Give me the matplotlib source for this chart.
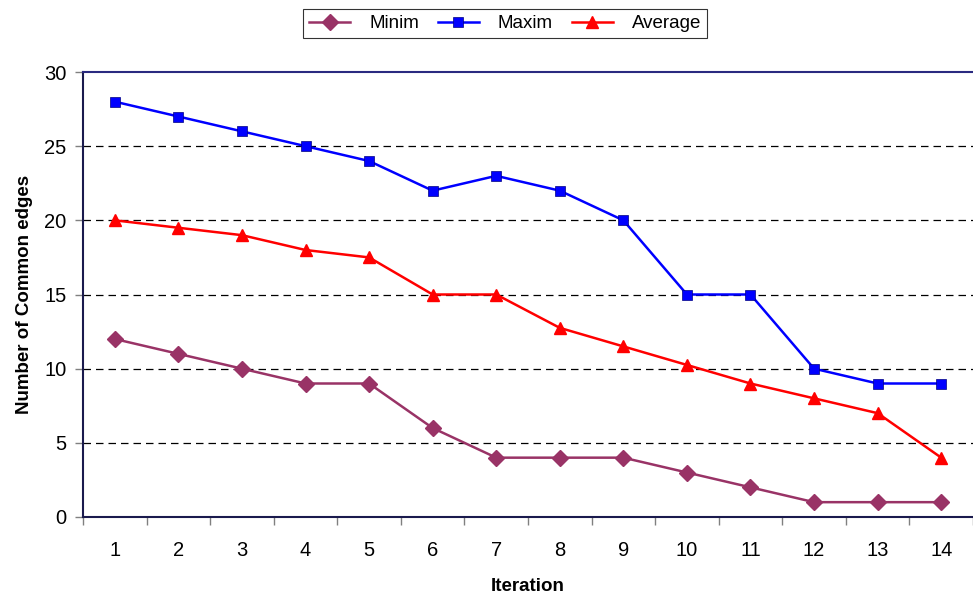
import matplotlib
matplotlib.use("Agg")
import matplotlib.pyplot as plt
from matplotlib.ticker import FixedLocator, NullFormatter

plt.rcParams['font.family'] = ['Liberation Sans', 'DejaVu Sans']

iterations = list(range(1, 15))
minim = [12, 11, 10, 9, 9, 6, 4, 4, 4, 3, 2, 1, 1, 1]
maxim = [28, 27, 26, 25, 24, 22, 23, 22, 20, 15, 15, 10, 9, 9]
average = [20, 19.5, 19, 18, 17.5, 15, 15, 12.75, 11.5, 10.25, 9, 8, 7, 4]
yticks = [0, 5, 10, 15, 20, 25, 30]

fig = plt.figure(figsize=(9.73, 5.94), dpi=100)
ax = fig.add_axes([83/973, 1-517/594, 1-83/973, (517-72)/594])

ax.plot(iterations, minim, color='#993366', marker='D', markersize=8, linewidth=1.8, label='Minim')
ax.plot(iterations, maxim, color='#0000FF', marker='s', markersize=6.5, linewidth=1.8,
        markeredgecolor='#000080', markeredgewidth=0.5, label='Maxim')
ax.plot(iterations, average, color='#FF0000', marker='^', markersize=8, linewidth=1.8, label='Average')

ax.set_xlim(0.5, 14.5)
ax.set_ylim(0, 30)
ax.set_xticks(iterations)
ax.set_xticklabels([str(i) for i in iterations])
ax.xaxis.set_minor_locator(FixedLocator([i + 0.5 for i in range(0, 15)]))
ax.xaxis.set_minor_formatter(NullFormatter())
ax.tick_params(axis='x', which='major', length=0, pad=17, labelsize=14.5)
ax.tick_params(axis='x', which='minor', length=6, color='#808080', width=1)
ax.set_yticks(yticks)
ax.tick_params(axis='y', length=6, color='#808080', width=1, labelsize=14.5, pad=6)

for y in yticks[1:-1]:
    ax.axhline(y, color='black', linestyle=(0, (6, 4)), linewidth=0.9, zorder=0)

for s in ['left', 'bottom', 'top']:
    ax.spines[s].set_color('#1a1a4d')
    ax.spines[s].set_linewidth(1.5)
ax.spines['top'].set_color('#2a2a80')
ax.spines['right'].set_visible(False)

ax.set_xlabel('Iteration', fontsize=13.5, fontweight='bold', labelpad=13)
ax.set_ylabel('Number of Common edges', fontsize=13.5, fontweight='bold', labelpad=8)

leg = fig.legend(loc='center', bbox_to_anchor=(505/973, 1-23.5/594), ncol=3, fontsize=13.5,
                 frameon=True, fancybox=False, edgecolor='black', handlelength=2.2,
                 columnspacing=1.0, handletextpad=1.0, borderpad=0.3)
leg.get_frame().set_linewidth(0.8)

fig.savefig('out.png', dpi=100)
